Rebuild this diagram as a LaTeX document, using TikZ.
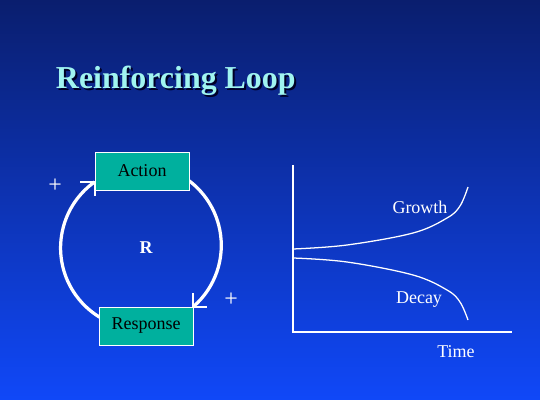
\documentclass[tikz,border=0pt]{standalone}
\usepackage{fontspec}
\setmainfont{Liberation Serif}
\usetikzlibrary{backgrounds}
\pgfdeclarelayer{slide}
\pgfsetlayers{slide,background,main}

\definecolor{slidetop}{HTML}{0A1E6E}
\definecolor{slidebot}{HTML}{1048F8}
\definecolor{boxteal}{HTML}{00B09E}
\definecolor{titlecyan}{HTML}{A0F4F0}

\begin{document}
\begin{tikzpicture}[x=0.025cm, y=-0.025cm,
    box/.style={draw=white, line width=0.6pt, fill=boxteal, text=black,
        minimum width=2.35cm, minimum height=0.95cm, inner sep=0pt,
        font=\fontsize{12.8}{15}\selectfont},
    lbl/.style={text=white, font=\fontsize{12.8}{15}\selectfont},
    loopline/.style={white, line width=2.3pt},
    barb/.style={white, line width=1.4pt},
    curve/.style={white, line width=0.9pt}]
    % slide background
    \begin{pgfonlayer}{slide}
        \shade[top color=slidetop, bottom color=slidebot] (0,0) rectangle (540,400);
    \end{pgfonlayer}
    \useasboundingbox (0,0) rectangle (540,400);

    \node[anchor=base west, text=black!85!blue, font=\fontsize{22.7}{27}\selectfont\bfseries] (titleshadow) at (53,91) {Reinforcing Loop};
    \node[anchor=base west, text=titlecyan, font=\fontsize{22.7}{27}\selectfont\bfseries] (title) at (51,89) {Reinforcing Loop};

    % loop
    \node[box] (act) at (142,171) {Action};
    \node[box] (resp) at (146,326) {Response};
    \begin{scope}[on background layer]
        \draw[loopline] (act.193) arc[start angle=125.5, end angle=245, radius=2.025cm];
        \draw[loopline] (resp.north east) arc[start angle=-49, end angle=65, radius=2.025cm];
    \end{scope}
    % open arrowheads
    \draw[barb] (act.193) -- ++(-15,0) (act.193) -- ++(0,14);
    \draw[barb] (resp.north east) -- ++(14,0) (resp.north east) -- ++(0,-14);
    \node[lbl, font=\fontsize{17}{20}\selectfont] (plusact) at (55,186) {+};
    \node[lbl, font=\fontsize{17}{20}\selectfont] (plusresp) at (231,300) {+};
    \node[lbl, font=\fontsize{12.8}{15}\selectfont\bfseries, anchor=base] (loopR) at (146,254) {R};

    % behaviour over time
    \coordinate (ytop) at (293,165);
    \coordinate (origin) at (293,332);
    \coordinate (xend) at (512,332);
    \draw[white, line width=1.4pt] (ytop) -- (origin) -- (xend);
    \draw[curve] plot[smooth, tension=0.6] coordinates {(293,249) (347,245) (413,233) (447,218) (460,206) (468,187)};
    \draw[curve] plot[smooth, tension=0.6] coordinates {(293,258) (347,262) (413,275) (447,290) (460,302) (468,320)};
    \node[lbl, anchor=base] (growth) at (420,214) {Growth};
    \node[lbl, anchor=base] (decay) at (419,304) {Decay};
    \node[lbl, anchor=base] (time) at (456,357) {Time};
\end{tikzpicture}
\end{document}
